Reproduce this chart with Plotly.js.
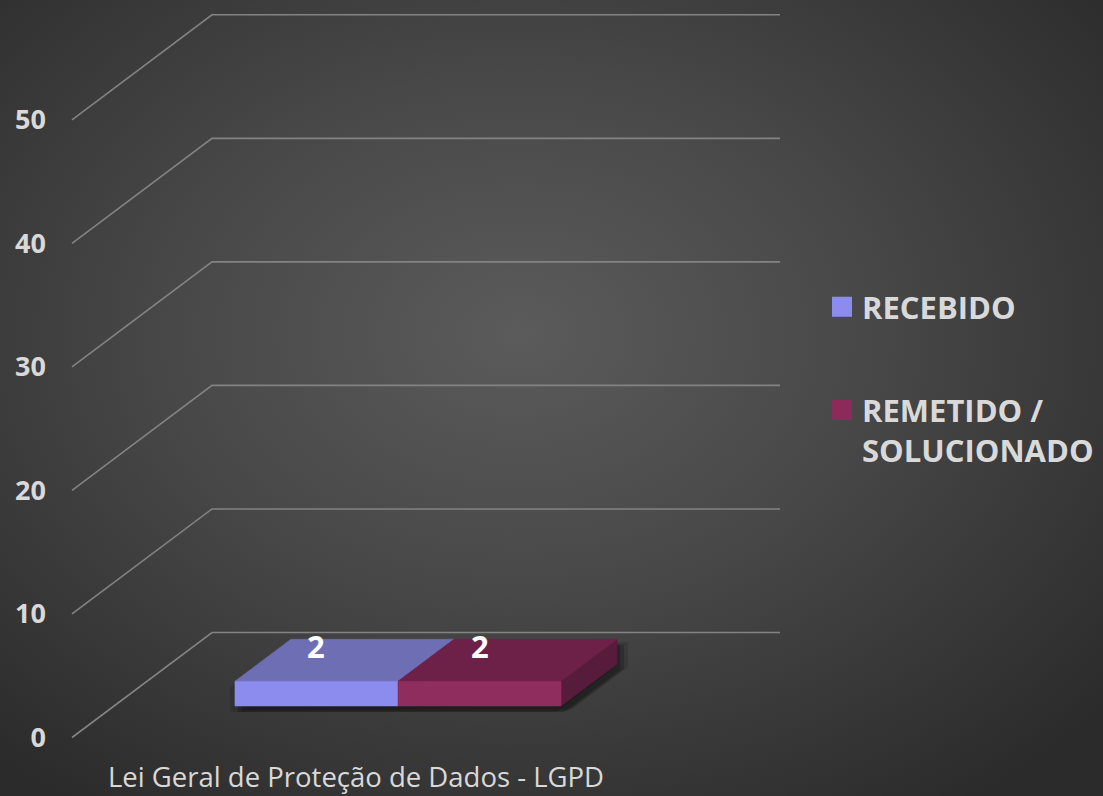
<!DOCTYPE html>
<html><head><meta charset="utf-8">
<script src="https://cdn.plot.ly/plotly-3.0.1.min.js"></script>
<style>
html,body{margin:0;padding:0;width:1103px;height:796px;overflow:hidden;
background: radial-gradient(ellipse 70% 72% at 47% 42%, #5b5b5b 0%, #484848 45%, #2b2b2b 100%);}
#chart{width:1103px;height:796px;}
</style></head><body><div id="chart"></div>
<script>
// ---- data ----
const categories = ['Lei Geral de Proteção de Dados - LGPD'];
const seriesNames = ['RECEBIDO', 'REMETIDO /<br>SOLUCIONADO'];
const recebido = [2];
const remetido = [2];
const tickValues = [0, 10, 20, 30, 40, 50];
const tickLabels = ['0', '10', '20', '30', '40', '50'];

// ---- styles ----
const frontColors = ['#8c8cee', '#8e2d5e'];
const topColors = ['#6e6eb5', '#6d2148'];
const sideColors = ['#5b5b99', '#571b3b'];
const legendColors = ['#8c8cef', '#8c2a5a'];
const textColor = '#d9d9d9';
const gridColor = '#838383';
const FONT = '"Open Sans", "Noto Sans", sans-serif';

// ---- projection / layout geometry ----
const W = 1103, H = 796;
const ML = 58, MR = 303, MT = 0, MB = 41;
const PXU = 568, PXV = 12.354, U0PX = 356, V0PX = 737.5;
const xRange = [(ML - U0PX) / PXU, (W - MR - U0PX) / PXU];
const yRange = [(V0PX - (H - MB)) / PXV, (V0PX - MT) / PXV];
const DX = 140 / PXU, DY = 105 / PXV;          // depth direction in data units
const BAR_W = 0.287, D0 = 0.3, D1 = 0.7;       // bar width (category units), depth span
function P(u, v, d) { return [u + d * DX, v + d * DY]; }

const series = [recebido, remetido];
const traces = [];

// gridlines (front wall diagonal + back wall horizontal)
const gx = [], gy = [];
tickValues.forEach(t => {
  [P(-0.5, t, 0), P(-0.5, t, 1), P(0.5, t, 1)].forEach(p => { gx.push(p[0]); gy.push(p[1]); });
  gx.push(null); gy.push(null);
});
traces.push({type: 'scatter', mode: 'lines', x: gx, y: gy, line: {color: gridColor, width: 1.6},
  hoverinfo: 'skip', showlegend: false});

function poly(pts, color, line) {
  const x = pts.map(p => p[0]).concat([pts[0][0]]);
  const y = pts.map(p => p[1]).concat([pts[0][1]]);
  return {type: 'scatter', mode: 'lines', x, y, fill: 'toself', fillcolor: color,
    line: {color: line || color, width: line ? 0 : 0.6}, hoverinfo: 'skip', showlegend: false};
}

const nS = series.length;
const annotations = [];
categories.forEach((cat, i) => {
  const a0 = i - BAR_W * nS / 2;
  const b0 = i + BAR_W * nS / 2;
  const hMax = Math.max(...series.map(s => s[i]));
  // soft shadow of the whole group
  const sil = [P(a0, 0, D0), P(b0, 0, D0), P(b0, 0, D1), P(b0, hMax, D1), P(a0, hMax, D1), P(a0, hMax, D0)];
  [[3, 6, 0.22], [7, 5, 0.18], [-5, 6, 0.12], [11, 3, 0.12]].forEach(([sx, sy, al]) => {
    traces.push(poly(sil.map(p => [p[0] + sx / PXU, p[1] - sy / PXV]), 'rgba(0,0,0,' + al + ')', 'rgba(0,0,0,0)'));
  });
  series.forEach((s, k) => {
    const a = a0 + k * BAR_W, b = a + BAR_W, h = s[i];
    traces.push(poly([P(b, 0, D0), P(b, 0, D1), P(b, h, D1), P(b, h, D0)], sideColors[k]));
    traces.push(poly([P(a, h, D0), P(b, h, D0), P(b, h, D1), P(a, h, D1)], topColors[k]));
    traces.push(poly([P(a, 0, D0), P(b, 0, D0), P(b, h, D0), P(a, h, D0)], frontColors[k]));
    annotations.push({x: P((a + b) / 2, h, D0)[0], y: P((a + b) / 2, h, D1)[1], xref: 'x', yref: 'y',
      text: String(h), showarrow: false, yanchor: 'middle', yshift: -7,
      font: {family: FONT, size: 31, color: '#ffffff', weight: 'bold'}});
  });
});

// legend proxies
seriesNames.forEach((nm, k) => {
  traces.push({type: 'scatter', mode: 'markers', x: [null], y: [null], name: nm, legendgroup: 'g' + k,
    marker: {symbol: 'square', size: 16, color: legendColors[k], line: {width: 4, color: legendColors[k]}},
    hoverinfo: 'skip', showlegend: true});
});

const plotW = W - ML - MR, plotH = H - MT - MB;
const layout = {
  width: W, height: H,
  margin: {l: ML, r: MR, t: MT, b: MB, pad: 0},
  paper_bgcolor: 'rgba(0,0,0,0)', plot_bgcolor: 'rgba(0,0,0,0)',
  showlegend: true,
  xaxis: {range: xRange, tickvals: categories.map((c, i) => i), ticktext: categories,
    showgrid: false, zeroline: false, showline: false, ticks: '', fixedrange: true,
    ticklabelstandoff: 3,
    tickfont: {family: FONT, size: 27.5, color: textColor}},
  yaxis: {range: yRange, tickvals: tickValues, ticktext: tickLabels,
    showgrid: false, zeroline: false, showline: false, ticks: '', fixedrange: true,
    ticklabelstandoff: 11,
    tickfont: {family: FONT, size: 27, color: textColor, weight: 'bold'}},
  legend: {x: (822 - ML) / plotW, xanchor: 'left', y: (H - MB - 280) / plotH, yanchor: 'top',
    bgcolor: 'rgba(0,0,0,0)', borderwidth: 0, traceorder: 'grouped', tracegroupgap: 60, valign: 'top',
    itemclick: false, itemdoubleclick: false,
    font: {family: FONT, size: 31, color: textColor, weight: 'bold'}},
  annotations: annotations,
  hovermode: false
};

Plotly.newPlot('chart', traces, layout, {staticPlot: true, displayModeBar: false});
</script></body></html>
